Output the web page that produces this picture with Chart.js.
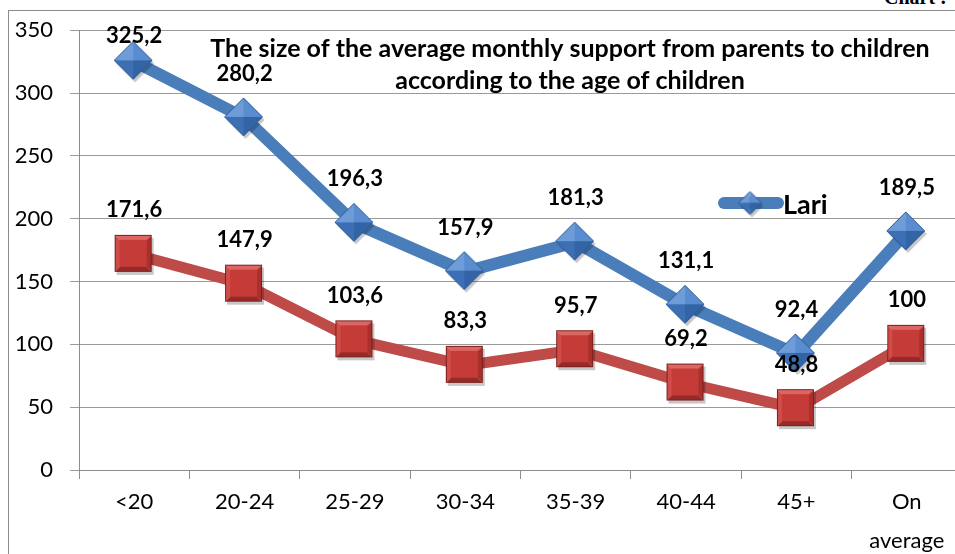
<!DOCTYPE html>
<html>
<head>
<meta charset="utf-8">
<script src="https://cdn.jsdelivr.net/npm/chart.js@4.4.0/dist/chart.umd.min.js"></script>
<style>
  html, body { margin: 0; padding: 0; background: #fff; overflow: hidden; }
  #wrap { position: relative; width: 955px; height: 554px; overflow: hidden; }
  #frame { position: absolute; left: 8px; top: 10px; width: 1000px; height: 600px;
           border-left: 1px solid #8c8c8c; border-top: 1px solid #8c8c8c; }
  #caption { position: absolute; left: 884px; top: -14px; font: bold 20px "Liberation Serif", serif; white-space: nowrap; }
  canvas { position: absolute; left: 0; top: 0; }
</style>
</head>
<body>
<div id="wrap">
  <div id="frame"></div>
  <div id="caption">Chart :</div>
  <canvas id="support-chart" width="962" height="554"></canvas>
</div>
<script>
// Average monthly support from parents to children, by age group of the children.
const AGE_GROUPS = ["<20", "20-24", "25-29", "30-34", "35-39", "40-44", "45+", ["On", "average"]];
const LARI = [325.2, 280.2, 196.3, 157.9, 181.3, 131.1, 92.4, 189.5];
const SECOND_SERIES = [171.6, 147.9, 103.6, 83.3, 95.7, 69.2, 48.8, 100];
const Y_MIN = 0;
const Y_MAX = 350;
const Y_STEP = 50;
const TITLE_LINES = [
  "The size of the average monthly support from parents to children",
  "according to the age of children",
];

const BLUE = "#4a7ebb";
const RED = "#be4b48";
const FONT = "Lato, 'Open Sans', sans-serif";

// Excel-style bevelled diamond marker (pyramid facets + soft shadow)
function makeDiamond(size) {
  const c = document.createElement("canvas");
  c.width = size + 6; c.height = size + 6;
  const g = c.getContext("2d");
  const m = size / 2, cx = size / 2 + 2, cy = size / 2 + 2;
  g.fillStyle = "rgba(0,0,0,0.22)";
  g.beginPath();
  g.moveTo(cx + 2, cy + 3 - m); g.lineTo(cx + 2 + m, cy + 3); g.lineTo(cx + 2, cy + 3 + m); g.lineTo(cx + 2 - m, cy + 3);
  g.closePath(); g.fill();
  const facets = [
    ["#6d9cd8", [cx, cy - m], [cx - m, cy]],
    ["#5a8dd0", [cx, cy - m], [cx + m, cy]],
    ["#3c6fb3", [cx - m, cy], [cx, cy + m]],
    ["#3264a6", [cx + m, cy], [cx, cy + m]],
  ];
  facets.forEach(([col, a, b]) => {
    g.fillStyle = col;
    g.beginPath(); g.moveTo(cx, cy); g.lineTo(a[0], a[1]); g.lineTo(b[0], b[1]); g.closePath(); g.fill();
  });
  g.strokeStyle = "#2f5b95"; g.lineWidth = 1;
  g.beginPath();
  g.moveTo(cx, cy - m); g.lineTo(cx + m, cy); g.lineTo(cx, cy + m); g.lineTo(cx - m, cy);
  g.closePath(); g.stroke();
  return c;
}

// Excel-style bevelled square marker
function makeSquare(size) {
  const c = document.createElement("canvas");
  c.width = size + 6; c.height = size + 6;
  const g = c.getContext("2d");
  const x0 = 2, y0 = 2, b = 5;
  g.fillStyle = "rgba(0,0,0,0.22)";
  g.fillRect(x0 + 2, y0 + 3, size, size);
  const x1 = x0 + size, y1 = y0 + size;
  const quad = (col, pts) => {
    g.fillStyle = col; g.beginPath(); g.moveTo(pts[0][0], pts[0][1]);
    pts.slice(1).forEach((p) => g.lineTo(p[0], p[1])); g.closePath(); g.fill();
  };
  quad("#de6662", [[x0, y0], [x1, y0], [x1 - b, y0 + b], [x0 + b, y0 + b]]);
  quad("#d04c48", [[x0, y0], [x0 + b, y0 + b], [x0 + b, y1 - b], [x0, y1]]);
  quad("#a9302d", [[x1, y0], [x1, y1], [x1 - b, y1 - b], [x1 - b, y0 + b]]);
  quad("#952a28", [[x0, y1], [x0 + b, y1 - b], [x1 - b, y1 - b], [x1, y1]]);
  g.fillStyle = "#c53b37";
  g.fillRect(x0 + b, y0 + b, size - 2 * b, size - 2 * b);
  g.strokeStyle = "#7c1f1d"; g.lineWidth = 1;
  g.strokeRect(x0 + 0.5, y0 + 0.5, size - 1, size - 1);
  return c;
}

const diamond = makeDiamond(38);
const legendDiamond = makeDiamond(23);
const square = makeSquare(37);

function fmt(v) {
  return String(v).replace(".", ",");
}

const overlay = {
  id: "overlay",
  afterDatasetsDraw(chart) {
    const ctx = chart.ctx;
    const top = chart.chartArea.top;
    ctx.save();
    ctx.fillStyle = "#000";
    ctx.textAlign = "center";
    ctx.textBaseline = "middle";
    ctx.font = "bold 22px " + FONT;
    chart.data.datasets.forEach((ds, i) => {
      chart.getDatasetMeta(i).data.forEach((pt, j) => {
        ctx.fillText(fmt(ds.data[j]), pt.x, Math.max(pt.y - 44, top + 6));
      });
    });

    // title sits inside the plot area, as in the original
    ctx.font = "bold 25px " + FONT;
    TITLE_LINES.forEach((t, k) => ctx.fillText(t, 570, 49 + k * 32));

    // legend: only the blue series is shown
    const ds = chart.data.datasets[0];
    ctx.strokeStyle = ds.borderColor;
    ctx.lineWidth = 12;
    ctx.lineCap = "round";
    ctx.beginPath(); ctx.moveTo(724, 203); ctx.lineTo(778, 203); ctx.stroke();
    ctx.drawImage(legendDiamond, 750 - legendDiamond.width / 2 + 1, 203 - legendDiamond.height / 2 + 1);
    ctx.textAlign = "left";
    ctx.font = "bold 27px " + FONT;
    ctx.fillText(ds.label, 783, 205);
    ctx.restore();
  },
};

new Chart(document.getElementById("support-chart"), {
  type: "line",
  data: {
    labels: AGE_GROUPS,
    datasets: [
      { label: "Lari", data: LARI, borderColor: BLUE, backgroundColor: BLUE, borderWidth: 12,
        pointStyle: diamond, pointRadius: 20, tension: 0 },
      { label: "%", data: SECOND_SERIES, borderColor: RED, backgroundColor: RED, borderWidth: 11,
        pointStyle: square, pointRadius: 20, tension: 0 },
    ],
  },
  options: {
    responsive: false,
    animation: false,
    layout: { autoPadding: false, padding: { top: 27, right: 0, left: 0, bottom: 0 } },
    plugins: { legend: { display: false }, title: { display: false }, tooltip: { enabled: false } },
    scales: {
      x: {
        offset: true,
        grid: { display: true, drawOnChartArea: false, drawTicks: true, tickLength: 9, color: "#8c8c8c", offset: true },
        border: { color: "#8c8c8c" },
        ticks: { color: "#000", font: { family: FONT, size: 22, lineHeight: 1.75 }, padding: 4, maxRotation: 0, autoSkip: false },
        afterFit: (scale) => { scale.height = 84; scale.paddingLeft = 0; scale.paddingRight = 0; },
      },
      y: {
        min: Y_MIN,
        max: Y_MAX,
        ticks: { stepSize: Y_STEP, color: "#000", font: { family: FONT, size: 22 }, padding: 17 },
        grid: { color: "#9a9a9a", tickLength: 9 },
        border: { color: "#8c8c8c" },
        afterFit: (scale) => { scale.width = 79; },
      },
    },
  },
  plugins: [overlay],
});
</script>
</body>
</html>
